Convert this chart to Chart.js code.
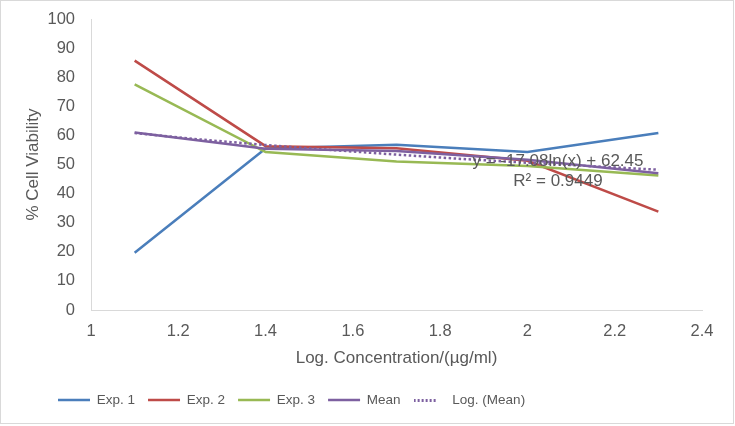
<!DOCTYPE html>
<html>
<head>
<meta charset="utf-8">
<script src="https://cdn.jsdelivr.net/npm/chart.js@4/dist/chart.umd.min.js"></script>
<style>
  html, body { margin: 0; padding: 0; background: #fff; }
  #wrap { width: 735px; height: 426px; }
</style>
</head>
<body>
<div id="wrap"><canvas id="lineChart" width="735" height="426"></canvas></div>
<script>
// log concentration values
var concentrations = [1.1, 1.4, 1.7, 2.0, 2.3];
var exp1 = [19.7, 55.5, 56.8, 54.3, 60.8];
var exp2 = [85.7, 56.3, 55.6, 51.3, 33.8];
var exp3 = [77.5, 54.3, 51.0, 49.5, 46.2];
var meanVals = [61.0, 55.4, 54.6, 51.6, 47.0];
// log trendline of the mean
var trendX = [1.1, 1.25, 1.4, 1.55, 1.7, 1.85, 2.0, 2.15, 2.3];
var trendY = [60.8, 58.6, 56.7, 55.0, 53.4, 51.9, 50.6, 49.4, 48.2];
var trendText = ["y = -17.08ln(x) + 62.45", "R\u00b2 = 0.9449"];

var fontFam = "'Liberation Sans', Arial, sans-serif";
var grey = "#595959";
var purple = "#7d60a0";

function pts(xs, ys) {
  return xs.map((x, i) => ({ x: x, y: ys[i] }));
}

function series(label, xs, ys, color, order, dash) {
  return {
    label: label,
    data: pts(xs, ys),
    borderColor: color,
    backgroundColor: color,
    borderWidth: 2.5,
    borderDash: dash || [],
    pointRadius: 0,
    tension: 0,
    fill: false,
    order: order,
  };
}

// dotted sample for the trendline legend entry
var dotted = document.createElement("canvas");
dotted.width = 32;
dotted.height = 3;
(() => {
  const c = dotted.getContext("2d");
  c.fillStyle = purple;
  for (let x = 0; x < 24; x += 4) c.fillRect(x, 0, 2, 3);
})();

// frame around the whole chart, legend shift + trendline equation
const extras = {
  id: "extras",
  beforeDraw(chart) {
    const ctx = chart.ctx;
    ctx.save();
    ctx.fillStyle = "#fff";
    ctx.fillRect(0, 0, chart.width, chart.height);
    ctx.strokeStyle = "#d9d9d9";
    ctx.lineWidth = 1;
    ctx.strokeRect(0.5, 0.5, chart.width - 2, chart.height - 3);
    ctx.restore();
  },
  afterLayout(chart) {
    // excel puts the legend a bit left of centre
    chart.legend.left += 45;
    chart.legend.right += 45;
  },
  afterDatasetsDraw(chart) {
    const ctx = chart.ctx;
    const xs = chart.scales.x, ys = chart.scales.y;
    const cx = xs.getPixelForValue(2.07);
    const cy = ys.getPixelForValue(51.2);
    ctx.save();
    ctx.font = "17px " + fontFam;
    ctx.fillStyle = grey;
    ctx.textAlign = "center";
    ctx.textBaseline = "middle";
    ctx.fillText(trendText[0], cx, cy);
    ctx.fillText(trendText[1], cx, cy + 20);
    ctx.restore();
  },
};

var chart;
(() => {
  const ctx = document.getElementById("lineChart");
  chart = new Chart(ctx, {
    type: "line",
    data: {
      datasets: [
        series("Exp. 1", concentrations, exp1, "#4a7ebb", 5),
        series("Exp. 2", concentrations, exp2, "#be4b48", 4),
        series("Exp. 3", concentrations, exp3, "#98b954", 3),
        series("Mean", concentrations, meanVals, purple, 2),
        series("Log. (Mean)", trendX, trendY, purple, 1, [2.5, 2.5]),
      ],
    },
    plugins: [extras],
    options: {
      responsive: false,
      animation: false,
      layout: { padding: { left: 0, right: 33, top: 19, bottom: 9.25 } },
      plugins: {
        tooltip: { enabled: false },
        legend: {
          position: "bottom",
          align: "start",
          labels: {
            font: { family: fontFam, size: 13.5 },
            color: grey,
            usePointStyle: true,
            pointStyle: "line",
            pointStyleWidth: 32,
            boxWidth: 32,
            padding: 13,
            sort: (a, b) => a.datasetIndex - b.datasetIndex,
            generateLabels(chart) {
              const items = Chart.defaults.plugins.legend.labels.generateLabels(chart);
              items.forEach((it) => {
                const ds = chart.data.datasets[it.datasetIndex];
                if (ds.borderDash && ds.borderDash.length) it.pointStyle = dotted;
              });
              return items;
            },
          },
        },
      },
      scales: {
        x: {
          type: "linear",
          min: 1,
          max: 2.4,
          grid: { display: false, drawTicks: false },
          border: { display: true, color: "#d9d9d9", width: 1 },
          ticks: {
            stepSize: 0.2,
            color: grey,
            padding: 12,
            font: { family: fontFam, size: 16.5 },
            callback: (v) => String(+v.toFixed(1)),
          },
          title: {
            display: true,
            text: "Log. Concentration/(\u00b5g/ml)",
            color: grey,
            font: { family: fontFam, size: 17 },
            padding: { top: 2, bottom: 12 },
          },
          afterFit(scale) { scale.height = 70.25; },
        },
        y: {
          min: 0,
          max: 100,
          grid: { display: false, drawTicks: false },
          border: { display: true, color: "#d9d9d9", width: 1 },
          ticks: {
            stepSize: 10,
            color: grey,
            padding: 16,
            font: { family: fontFam, size: 16.5 },
          },
          title: {
            display: true,
            text: "% Cell Viability",
            color: grey,
            font: { family: fontFam, size: 17 },
            padding: { top: 23, bottom: 0 },
          },
          afterFit(scale) {
            scale.width = 91;
            scale.paddingTop = 10;
            scale.paddingBottom = 10;
          },
        },
      },
    },
  });
})();
</script>
</body>
</html>
